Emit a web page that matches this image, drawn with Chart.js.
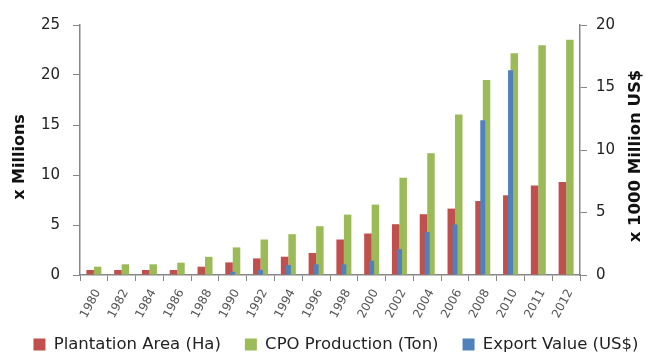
<!DOCTYPE html>
<html>
<head>
<meta charset="utf-8">
<script src="https://cdn.jsdelivr.net/npm/chart.js@4.4.1/dist/chart.umd.min.js"></script>
<style>
  html, body { margin: 0; padding: 0; background: #fff; }
  #wrap { width: 645px; height: 354px; }
</style>
</head>
<body>
<div id="wrap"><canvas id="myChartPalmOil" width="645" height="354"></canvas></div>
<script>
const years = ['1980', '1982', '1984', '1986', '1988', '1990', '1992', '1994', '1996', '1998',
               '2000', '2002', '2004', '2006', '2008', '2010', '2011', '2012']

// x Millions (left axis)
const plantationArea = [0.5, 0.5, 0.5, 0.5, 0.83, 1.26, 1.66, 1.83, 2.2, 3.55,
                        4.15, 5.08, 6.08, 6.64, 7.4, 7.97, 8.96, 9.3]
const cpoProduction = [0.83, 1.07, 1.07, 1.23, 1.82, 2.76, 3.55, 4.08, 4.88, 6.04,
                       7.04, 9.73, 12.18, 16.04, 19.49, 22.18, 22.97, 23.52]

// x 1000 Million US$ (right axis)
const exportValue = [0, 0, 0, 0, 0, 0.26, 0.4, 0.8, 0.85, 0.85,
                     1.14, 2.07, 3.45, 4.04, 12.38, 16.39, 0, 0]

const leftTicks = [0, 5, 10, 15, 20, 25]
const rightTicks = [0, 5, 10, 15, 20]

const AXIS_GREY = '#868686'
const FONT = 'DejaVu Sans'

// rotated axis titles, both read bottom-to-top
const axisTitles = {
    id: 'axisTitles',
    afterDraw(chart) {
        const c = chart.ctx
        const area = chart.chartArea
        const mid = (area.top + area.bottom) / 2
        c.save()
        c.fillStyle = '#111'
        c.font = 'bold 16px "' + FONT + '"'
        c.textAlign = 'center'
        c.textBaseline = 'middle'
        c.translate(20, mid + 7)
        c.rotate(-Math.PI / 2)
        c.fillText('x Millions', 0, 0)
        c.restore()

        c.save()
        c.fillStyle = '#111'
        c.font = 'bold 16.5px "' + FONT + '"'
        c.textAlign = 'center'
        c.textBaseline = 'middle'
        c.translate(636, mid + 6)
        c.rotate(-Math.PI / 2)
        c.fillText('x 1000 Million US$', 0, 0)
        c.restore()
    }
}

// year labels hang below the x scale box, over the legend's empty top margin;
// let them draw down to the canvas edge instead of being clipped to the box
const freeYearLabels = {
    id: 'freeYearLabels',
    afterLayout(chart) {
        chart.scales.x.bottom = chart.height
    }
}

var ctx = document.getElementById('myChartPalmOil')
var myChart = new Chart(ctx, {
    type: 'bar',
    data: {
        labels: years,
        datasets: [{
            label: 'Plantation Area (Ha)',
            data: plantationArea,
            backgroundColor: '#C0504D',
            yAxisID: 'y',
            categoryPercentage: 0.54,
            barPercentage: 1,
            order: 1
        }, {
            label: 'CPO Production (Ton)',
            data: cpoProduction,
            backgroundColor: '#9BBB59',
            yAxisID: 'y',
            categoryPercentage: 0.54,
            barPercentage: 1,
            order: 1
        }, {
            label: 'Export Value (US$)',
            data: exportValue,
            backgroundColor: '#4F81BD',
            yAxisID: 'y2',
            grouped: false,
            categoryPercentage: 0.18,
            barPercentage: 1,
            order: 0
        }]
    },
    options: {
        responsive: false,
        animation: false,
        layout: {
            // the legend box is made wider/lower than the canvas so its
            // wide item gaps fit in one row; the axes widths make up for it
            padding: { left: -3, right: -30, top: 25, bottom: -8.75 }
        },
        plugins: {
            tooltip: { enabled: false },
            legend: {
                position: 'bottom',
                labels: {
                    boxWidth: 12,
                    boxHeight: 12,
                    padding: 24,
                    color: '#222',
                    font: { family: FONT, size: 16.5 },
                    sort: (a, b) => a.datasetIndex - b.datasetIndex
                }
            }
        },
        scales: {
            x: {
                offset: true,
                grid: { offset: true, drawOnChartArea: false, color: AXIS_GREY, tickLength: 6 },
                border: { color: AXIS_GREY, width: 1.5 },
                ticks: {
                    minRotation: 62,
                    maxRotation: 62,
                    autoSkip: false,
                    padding: 6,
                    labelOffset: 4,
                    color: '#555',
                    font: { family: FONT, size: 12 }
                },
                afterFit: scale => { scale.height = 37.25 }
            },
            y: {
                position: 'left',
                min: 0,
                max: 25,
                afterBuildTicks: scale => { scale.ticks = leftTicks.map(v => ({ value: v })) },
                grid: { drawOnChartArea: false, color: AXIS_GREY, tickLength: 7 },
                border: { color: AXIS_GREY, width: 1.5 },
                ticks: { color: '#222', padding: 13, font: { family: FONT, size: 15 } },
                afterFit: scale => { scale.width = 83 }
            },
            y2: {
                position: 'right',
                min: 0,
                max: 20,
                afterBuildTicks: scale => { scale.ticks = rightTicks.map(v => ({ value: v })) },
                grid: { drawOnChartArea: false, color: AXIS_GREY, tickLength: 7 },
                border: { color: AXIS_GREY, width: 1.5 },
                ticks: { color: '#222', padding: 9, font: { family: FONT, size: 15 } },
                afterFit: scale => { scale.width = 95 }
            }
        }
    },
    plugins: [axisTitles, freeYearLabels]
})
</script>
</body>
</html>
